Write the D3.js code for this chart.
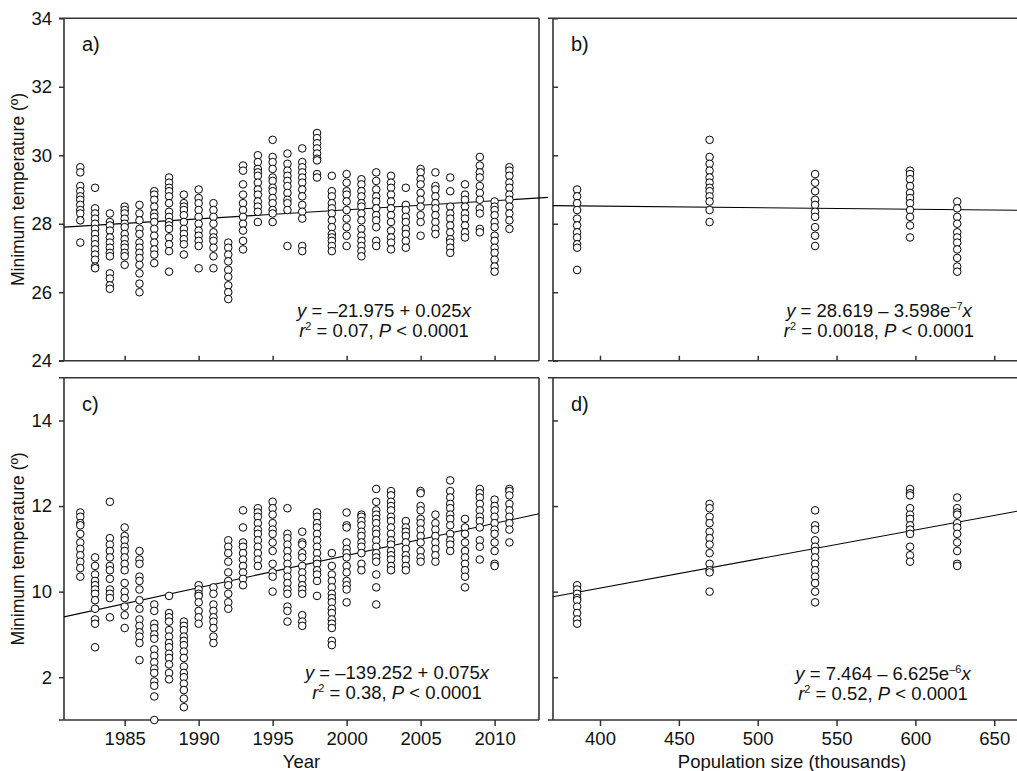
<!DOCTYPE html>
<html><head><meta charset="utf-8">
<script src="https://cdn.jsdelivr.net/npm/d3@7"></script>
<style>
body{margin:0;background:#fff}
svg{display:block}
text{font-family:"Liberation Sans",Arial,sans-serif;fill:#111}
</style>
</head><body>
<svg id="chart" width="1017" height="771"></svg>
<script>
// ---------------- data ----------------
const years = [1982,1983,1984,1985,1986,1987,1988,1989,1990,1991,1992,1993,1994,1995,1996,1997,1998,1999,2000,2001,2002,2003,2004,2005,2006,2007,2008,2009,2010,2011];

// panel a: minimum temperature per year (upper variable)
const tempA = [
 [29.65,29.5,29.1,28.95,28.8,28.7,28.55,28.4,28.3,28.1,27.45],
 [29.05,28.45,28.3,28.15,28.0,27.85,27.7,27.55,27.4,27.25,27.1,26.95,26.75,26.7],
 [28.3,28.05,27.95,27.8,27.6,27.45,27.3,27.15,27.05,26.55,26.4,26.2,26.1],
 [28.5,28.4,28.3,28.15,28.0,27.9,27.7,27.55,27.4,27.3,27.15,27.05,26.8],
 [28.55,28.3,28.1,27.85,27.7,27.45,27.3,27.15,27.0,26.8,26.55,26.25,26.0],
 [28.95,28.85,28.7,28.5,28.3,28.2,28.05,27.85,27.65,27.45,27.25,27.1,26.85],
 [29.35,29.2,29.05,28.95,28.8,28.6,28.35,28.2,28.05,27.95,27.85,27.6,27.4,27.2,26.6],
 [28.85,28.6,28.5,28.4,28.25,28.05,27.85,27.7,27.55,27.4,27.1],
 [29.0,28.75,28.6,28.4,28.2,28.0,27.8,27.65,27.5,27.35,26.7],
 [28.6,28.4,28.2,28.0,27.75,27.6,27.5,27.3,27.05,26.7],
 [27.45,27.3,27.1,26.9,26.65,26.45,26.2,26.0,25.8],
 [29.7,29.55,29.15,28.85,28.6,28.4,28.2,28.0,27.8,27.5,27.25],
 [30.0,29.8,29.6,29.5,29.4,29.2,29.0,28.85,28.65,28.5,28.35,28.05],
 [30.45,29.95,29.8,29.6,29.35,29.25,29.05,28.95,28.75,28.6,28.4,28.3,28.05],
 [30.05,29.75,29.55,29.4,29.25,29.1,28.9,28.7,28.6,28.4,27.35],
 [30.2,29.8,29.65,29.5,29.35,29.2,29.0,28.8,28.55,28.35,28.15,27.35,27.2],
 [30.65,30.5,30.35,30.2,30.05,29.9,29.85,29.45,29.35],
 [29.4,28.95,28.8,28.6,28.45,28.3,28.1,27.9,27.7,27.6,27.5,27.35,27.2],
 [29.45,29.2,28.95,28.85,28.65,28.4,28.15,27.9,27.65,27.35],
 [29.3,29.15,28.95,28.8,28.6,28.5,28.3,28.1,27.85,27.65,27.5,27.35,27.2,27.05],
 [29.5,29.25,29.0,28.8,28.65,28.45,28.25,28.1,27.9,27.5,27.35],
 [29.4,29.2,29.05,28.85,28.65,28.45,28.25,28.05,27.8,27.6,27.45,27.25],
 [29.05,28.55,28.4,28.2,28.05,27.85,27.7,27.5,27.3],
 [29.6,29.5,29.3,29.15,28.9,28.7,28.5,28.25,28.05,27.65],
 [29.5,29.1,29.0,28.8,28.6,28.45,28.25,28.05,27.85,27.7],
 [29.35,28.95,28.5,28.3,28.15,27.95,27.75,27.55,27.45,27.3,27.15],
 [29.15,28.85,28.7,28.5,28.3,28.15,27.95,27.75,27.6],
 [29.95,29.7,29.5,29.35,29.1,28.9,28.7,28.45,28.3,27.85,27.75],
 [28.65,28.5,28.4,28.25,28.05,27.9,27.65,27.5,27.3,27.15,26.95,26.75,26.6],
 [29.65,29.55,29.4,29.2,29.05,28.85,28.7,28.5,28.3,28.1,27.85]
];

// panel c: minimum temperature per year (lower variable)
const tempC = [
 [11.85,11.75,11.6,11.55,11.35,11.15,11.0,10.85,10.7,10.55,10.35],
 [10.8,10.6,10.4,10.25,10.15,10.05,9.95,9.8,9.6,9.35,9.25,8.7],
 [12.1,11.25,11.1,10.95,10.8,10.6,10.5,10.3,10.05,9.95,9.85,9.4],
 [11.5,11.3,11.2,11.05,10.95,10.8,10.65,10.5,10.2,10.0,9.85,9.65,9.45,9.15],
 [10.95,10.75,10.65,10.35,10.25,10.05,9.8,9.6,9.35,9.2,9.05,8.95,8.8,8.4],
 [9.7,9.55,9.25,9.15,9.0,8.9,8.65,8.5,8.35,8.2,8.1,7.9,7.8,7.55,7.0],
 [9.9,9.5,9.4,9.3,9.1,8.95,8.8,8.7,8.55,8.45,8.3,8.1,7.95],
 [9.3,9.2,9.1,8.95,8.85,8.75,8.6,8.45,8.25,8.1,8.0,7.85,7.7,7.5,7.3],
 [10.15,10.05,9.95,9.9,9.75,9.55,9.4,9.25],
 [10.1,9.95,9.7,9.55,9.4,9.3,9.15,8.95,8.8],
 [11.2,11.05,10.9,10.7,10.45,10.25,10.15,9.95,9.75,9.6],
 [11.9,11.5,11.15,11.05,10.9,10.75,10.6,10.45,10.3,10.15],
 [11.95,11.85,11.75,11.6,11.45,11.35,11.2,11.05,10.9,10.75,10.6],
 [12.1,11.95,11.8,11.6,11.45,11.35,11.15,10.95,10.65,10.45,10.35,10.0],
 [11.95,11.35,11.25,11.1,10.95,10.8,10.65,10.5,10.35,10.2,10.05,9.95,9.65,9.55,9.3],
 [11.4,11.15,11.1,10.9,10.8,10.6,10.45,10.3,10.15,10.05,9.95,9.45,9.3,9.2],
 [11.85,11.75,11.6,11.5,11.35,11.2,11.05,10.9,10.75,10.65,10.5,10.4,10.25,9.9],
 [10.9,10.6,10.4,10.25,10.1,9.95,9.85,9.75,9.6,9.5,9.35,9.25,9.15,8.85,8.75],
 [11.85,11.55,11.5,11.15,11.0,10.9,10.8,10.6,10.45,10.25,10.15,10.05,9.75],
 [11.8,11.75,11.65,11.55,11.4,11.3,11.15,11.05,10.9,10.65,10.5],
 [12.4,12.1,11.9,11.8,11.7,11.6,11.45,11.35,11.2,11.05,10.9,10.8,10.7,10.4,10.1,9.7],
 [12.35,12.25,12.1,12.0,11.9,11.75,11.65,11.5,11.35,11.2,11.1,10.95,10.85,10.75,10.6,10.5],
 [11.65,11.5,11.4,11.3,11.15,11.0,10.85,10.75,10.6,10.5],
 [12.35,12.3,12.0,11.9,11.7,11.6,11.45,11.3,11.15,10.95,10.8,10.7],
 [11.8,11.6,11.45,11.3,11.15,11.0,10.85,10.7],
 [12.6,12.35,12.2,12.05,11.95,11.8,11.7,11.55,11.35,11.2,11.1,10.95],
 [11.7,11.5,11.35,11.15,10.95,10.8,10.65,10.5,10.35,10.1],
 [12.4,12.3,12.2,12.05,11.9,11.75,11.65,11.5,11.2,11.05,10.75],
 [12.15,12.0,11.9,11.75,11.6,11.45,11.35,11.15,10.95,10.65,10.6],
 [12.4,12.35,12.25,12.05,11.9,11.75,11.6,11.45,11.15]
];

// panels b and d: population size (thousands)
const popSizes = [385.5, 469.5, 536.4, 596.6, 626.5];
const tempB = [
 [29.0,28.8,28.6,28.4,28.15,27.95,27.75,27.6,27.4,27.3,26.65],
 [30.45,29.95,29.75,29.55,29.35,29.2,29.05,28.95,28.8,28.65,28.4,28.05],
 [29.45,29.2,28.95,28.7,28.55,28.35,28.2,27.9,27.65,27.35],
 [29.55,29.45,29.3,29.1,28.9,28.75,28.6,28.4,28.2,27.95,27.6],
 [28.65,28.45,28.2,28.0,27.75,27.6,27.45,27.25,27.0,26.75,26.6]
];
const tempD = [
 [10.15,10.05,9.95,9.85,9.8,9.65,9.5,9.35,9.25],
 [12.05,11.95,11.75,11.6,11.4,11.25,11.1,10.9,10.65,10.5,10.45,10.0],
 [11.9,11.55,11.45,11.2,11.05,10.95,10.8,10.65,10.5,10.35,10.2,10.0,9.75],
 [12.4,12.3,12.25,11.95,11.8,11.7,11.55,11.45,11.35,11.05,10.85,10.7],
 [12.2,11.95,11.85,11.8,11.6,11.5,11.35,11.15,10.95,10.65,10.6]
];

// fitted regression lines (end points)
const fitA = [[1980.9, 27.9], [2013.6, 28.77]];
const fitB = [[370.2, 28.53], [673.3, 28.39]];
const fitC = [[1980.9, 9.41], [2013, 11.82]];
const fitD = [[370.2, 9.88], [673.3, 11.94]];

// ticks
const yearTicks = [1985, 1990, 1995, 2000, 2005, 2010];
const popTicks = [400, 450, 500, 550, 600, 650];
const tempTicksTop = [24, 26, 28, 30, 32, 34];
const tempTicksBottom = [8, 10, 12, 14];
const tempTickLabelsBottom = ["2", "10", "12", "14"];

// texts
const panelLabels = ["a)", "b)", "c)", "d)"];
const yTitle = "Minimum temperature (º)";
const xTitleLeft = "Year";
const xTitleRight = "Population size (thousands)";
// equations: arrays of [text, style] runs; style: i = italic, s = superscript, n = normal
const eqA = [[["y","i"],[" = –21.975 + 0.025","n"],["x","i"]], [["r","i"],["2","s"],[" = 0.07, ","n"],["P","i"],[" < 0.0001","n"]]];
const eqB = [[["y","i"],[" = 28.619 – 3.598e","n"],["–7","s"],["x","i"]], [["r","i"],["2","s"],[" = 0.0018, ","n"],["P","i"],[" < 0.0001","n"]]];
const eqC = [[["y","i"],[" = –139.252 + 0.075","n"],["x","i"]], [["r","i"],["2","s"],[" = 0.38, ","n"],["P","i"],[" < 0.0001","n"]]];
const eqD = [[["y","i"],[" = 7.464 – 6.625e","n"],["–6","s"],["x","i"]], [["r","i"],["2","s"],[" = 0.52, ","n"],["P","i"],[" < 0.0001","n"]]];

// ---------------- drawing ----------------
const svg = d3.select("#chart");
const AXIS = "#333";
const FS = 18.5;

const L = {left: 64, right: 539, left2: 553, right2: 1031, top1: 18.3, bot1: 360.7, top2: 377.7, bot2: 720};

const xYear = d3.scaleLinear().domain([1980.9, 2013]).range([L.left, L.right]);
const xPop = d3.scaleLinear().domain([370.2, 673.3]).range([L.left2, L.right2]);
const yTop = d3.scaleLinear().domain([24, 34]).range([L.bot1, L.top1]);
const yBot = d3.scaleLinear().domain([7, 15]).range([L.bot2, L.top2]);

const panels = [
  {x: xYear, y: yTop, xs: years, ys: tempA, fit: fitA, eq: eqA, eqX: 384, eqY: 317, lab: panelLabels[0],
   xTicks: yearTicks, yTicks: tempTicksTop, xIn: true, yIn: false, xLabels: false, yLabels: true, yFmt: d => d},
  {x: xPop, y: yTop, xs: popSizes, ys: tempB, fit: fitB, eq: eqB, eqX: 879, eqY: 317, lab: panelLabels[1],
   xTicks: popTicks, yTicks: tempTicksTop, xIn: true, yIn: true, xLabels: false, yLabels: false, yFmt: d => d},
  {x: xYear, y: yBot, xs: years, ys: tempC, fit: fitC, eq: eqC, eqX: 397, eqY: 679, lab: panelLabels[2],
   xTicks: yearTicks, yTicks: tempTicksBottom, xIn: false, yIn: false, xLabels: true, yLabels: true,
   yFmt: d => tempTickLabelsBottom[tempTicksBottom.indexOf(d)]},
  {x: xPop, y: yBot, xs: popSizes, ys: tempD, fit: fitD, eq: eqD, eqX: 883, eqY: 680, lab: panelLabels[3],
   xTicks: popTicks, yTicks: tempTicksBottom, xIn: false, yIn: true, xLabels: true, yLabels: false, yFmt: d => d}
];

panels.forEach(p => {
  const [x0, x1] = p.x.range();
  const [y1, y0] = p.y.range();
  const g = svg.append("g");

  // x axis
  const xa = d3.axisBottom(p.x).tickValues(p.xTicks).tickSizeOuter(0)
    .tickSizeInner(p.xIn ? -5 : 6).tickPadding(p.xIn ? 0 : 6)
    .tickFormat(p.xLabels ? d3.format("d") : () => "");
  const gx = g.append("g").attr("transform", `translate(0,${y1})`).call(xa);
  gx.select(".domain").remove();
  gx.selectAll("line").attr("stroke", AXIS).attr("stroke-width", 1.5);
  gx.selectAll("text").attr("font-size", FS).attr("font-family", null).attr("fill", "#111");

  // y axis
  const ya = d3.axisLeft(p.y).tickValues(p.yTicks).tickSizeOuter(0)
    .tickSizeInner(p.yIn ? -5 : 5).tickPadding(7)
    .tickFormat(p.yLabels ? p.yFmt : () => "");
  const gy = g.append("g").attr("transform", `translate(${x0},0)`).call(ya);
  gy.select(".domain").remove();
  gy.selectAll("line").attr("stroke", AXIS).attr("stroke-width", 1.5);
  gy.selectAll("text").attr("font-size", FS).attr("font-family", null).attr("fill", "#111");

  // frame
  const fr = g.append("g").attr("stroke", AXIS).attr("stroke-width", 1.6).attr("fill", "none");
  fr.append("line").attr("x1", x0 - 5).attr("x2", x1).attr("y1", y0).attr("y2", y0);
  fr.append("line").attr("x1", x0 - 5).attr("x2", x1).attr("y1", y1).attr("y2", y1);
  fr.append("line").attr("x1", x0).attr("x2", x0).attr("y1", y0).attr("y2", y1);
  fr.append("line").attr("x1", x1).attr("x2", x1).attr("y1", y0).attr("y2", y1);

  // regression line
  g.append("path").attr("d", d3.line().x(d => p.x(d[0])).y(d => p.y(d[1]))(p.fit))
    .attr("stroke", "#000").attr("stroke-width", 1.1).attr("fill", "none");

  // points
  const pts = [];
  p.xs.forEach((xv, i) => p.ys[i].forEach(v => pts.push([xv, v])));
  g.append("g").selectAll("circle").data(pts).join("circle")
    .attr("cx", d => p.x(d[0])).attr("cy", d => p.y(d[1])).attr("r", 3.8)
    .attr("fill", "#fff").attr("stroke", "#000").attr("stroke-width", 1);

  // panel label
  g.append("text").attr("x", x0 + 18).attr("y", y0 + 33).attr("font-size", 20).text(p.lab);

  // equation
  p.eq.forEach((runs, li) => {
    const t = g.append("text").attr("x", p.eqX).attr("y", p.eqY + li * 20)
      .attr("text-anchor", "middle").attr("font-size", FS);
    let shifted = false;
    runs.forEach(([txt, st]) => {
      const ts = t.append("tspan").text(txt);
      if (st === "i") ts.attr("font-style", "italic");
      if (st === "s") { ts.attr("font-size", 11).attr("dy", -7); shifted = true; }
      else if (shifted) { ts.attr("dy", 7); shifted = false; }
    });
  });
});

// axis titles
svg.append("text").attr("transform", `translate(24,${(L.top1 + L.bot1) / 2}) rotate(-90)`)
  .attr("text-anchor", "middle").attr("font-size", 17.5).text(yTitle);
svg.append("text").attr("transform", `translate(24,${(L.top2 + L.bot2) / 2}) rotate(-90)`)
  .attr("text-anchor", "middle").attr("font-size", 17.5).text(yTitle);
svg.append("text").attr("x", (L.left + L.right) / 2).attr("y", 768)
  .attr("text-anchor", "middle").attr("font-size", FS).text(xTitleLeft);
svg.append("text").attr("x", (L.left2 + L.right2) / 2).attr("y", 768)
  .attr("text-anchor", "middle").attr("font-size", FS).text(xTitleRight);
</script>
</body></html>
